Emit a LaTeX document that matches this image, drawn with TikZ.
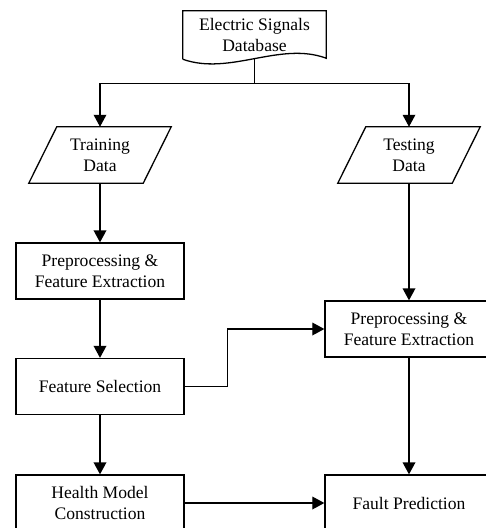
\documentclass[tikz,border=0pt]{standalone}
\usepackage{fontspec}
\setmainfont{Liberation Serif}
\usepackage{tikz}
\usetikzlibrary{calc,arrows.meta}

\begin{document}
\begin{tikzpicture}[x=0.03cm, y=-0.03cm,
    every node/.style={font=\fontsize{15}{18}\selectfont, align=center},
    box/.style={draw, line width=1.1pt, minimum width=5.04cm, minimum height=1.68cm, inner sep=0pt},
    io/.style={minimum width=3.42cm, minimum height=1.68cm, inner sep=0pt},
    arr/.style={-{Triangle[length=3.6mm, width=3.8mm]}, line width=1.1pt}]
    \useasboundingbox (0,0) rectangle (486,528);
    \clip (0,0) rectangle (486,528);

    \node (db) at (254.5,35) [minimum width=4.29cm, minimum height=1.44cm, inner sep=0pt] {Electric Signals\\Database};
    \draw[line width=1.1pt] (db.south west) -- (db.north west) -- (db.north east) -- ($(db.south east)+(0,-1)$)
        .. controls (280,41) and (230,76) .. (db.south west);

    \node[io] (train) at (100,155) {Training\\Data};
    \node[io] (test) at (409,155) {Testing\\Data};
    % parallelograms
    \foreach \n in {train,test}
        \draw[line width=1.1pt] ($(\n.south west)+(-14,0)$) -- ($(\n.north west)+(14,0)$)
            -- ($(\n.north east)+(14,0)$) -- ($(\n.south east)+(-14,0)$) -- cycle;

    \node[box] (pre1) at (100,271) {Preprocessing \&\\Feature Extraction};
    \node[box] (sel) at (100,386.5) {Feature Selection};
    \node[box] (health) at (100,503) {Health Model\\Construction};
    \node[box] (pre2) at (409,329) {Preprocessing \&\\Feature Extraction};
    \node[box] (fault) at (409,503) {Fault Prediction};

    \coordinate (split) at (254.5,83.5);
    \draw[line width=1.1pt] (db.south) -- (split);
    \draw[arr] (split) -| (train.north);
    \draw[arr] (split) -| (test.north);

    \draw[arr] (train) -- (pre1);
    \draw[arr] (pre1) -- (sel);
    \draw[arr] (sel) -- (health);
    \draw[arr] (sel.east) -- ++(43,0) |- (pre2.west);
    \draw[arr] (test) -- (pre2);
    \draw[arr] (pre2) -- (fault);
    \draw[arr] (health) -- (fault);
\end{tikzpicture}
\end{document}
